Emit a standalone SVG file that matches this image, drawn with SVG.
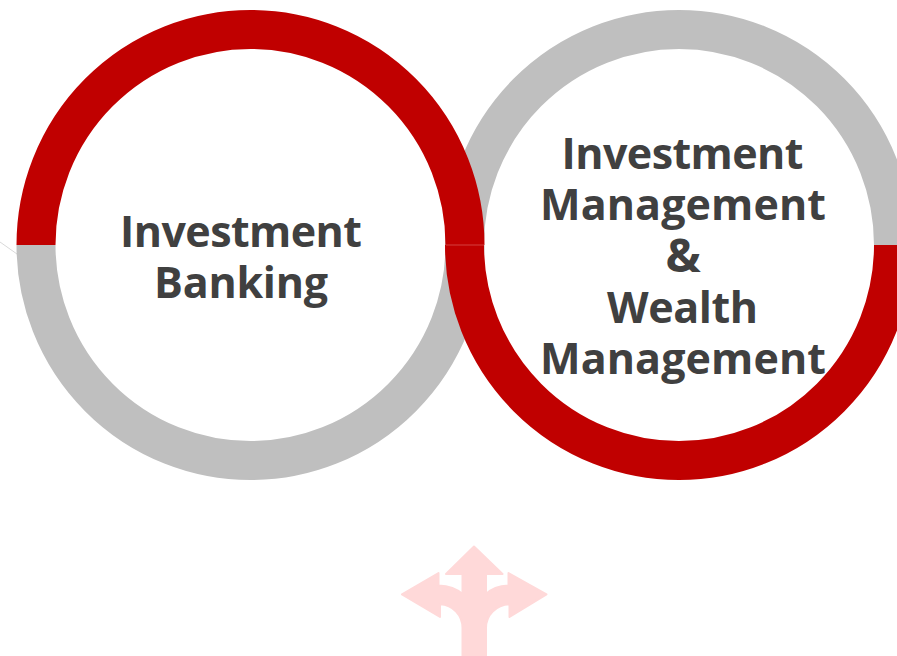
<svg xmlns="http://www.w3.org/2000/svg" width="897" height="656" viewBox="0 0 897 656">
<style>
.ring{fill:none;stroke-width:39}
.red{stroke:#C00000}
.grey{stroke:#BFBFBF}
.t{font-family:"Open Sans","Noto Sans",sans-serif;font-weight:700;font-size:43px;fill:#404040;text-anchor:middle}
</style>
<rect width="897" height="656" fill="#FFFFFF"/>
<g id="connectors">
<line x1="0" y1="242" x2="17" y2="254" stroke="#D9D9D9" stroke-width="1"/>
</g>
<g id="ring-right-top"><path class="ring grey" d="M464.500 245A214.500 215.500 0 0 1 893.500 245"/></g>
<g id="ring-left-bottom"><path class="ring grey" d="M36 245A214.500 215.500 0 0 0 465 245"/></g>
<g id="node-investment-banking">
<path class="ring red" d="M36 245A214.500 215.500 0 0 1 465 245"/>
<text class="t" x="241" y="247" textLength="242">Investment</text>
<text class="t" x="241" y="298" textLength="174">Banking</text>
</g>
<g id="node-investment-management">
<path class="ring red" d="M464.500 245A214.500 215.500 0 0 0 893.500 245"/>
<line x1="446" y1="245" x2="484" y2="245" stroke="#D4403F" stroke-width="1"/>
<text class="t" x="682.500" y="169" textLength="242">Investment</text>
<text class="t" x="683" y="220" textLength="286">Management</text>
<text class="t" x="683" y="272" style="font-size:47px">&amp;</text>
<text class="t" x="682.500" y="323" textLength="151">Wealth</text>
<text class="t" x="683" y="374" textLength="286">Management</text>
</g>
<g id="arrow-icon">
<path fill="#FFD9D9" stroke="#FFD9D9" stroke-width="2" stroke-linejoin="round" d="M474 546.500L502.500 574H486V594C491 589 499 586 508.500 585.500V573L546.500 594.300L509.500 617V604.300C496 605 486 615 486 628V656H462.500V628C462.500 615 453 605 440 604.300V617L402 594.300L438.500 573V585.500C449 586 457 589 462.500 594V574H446Z"/>
</g>
</svg>
